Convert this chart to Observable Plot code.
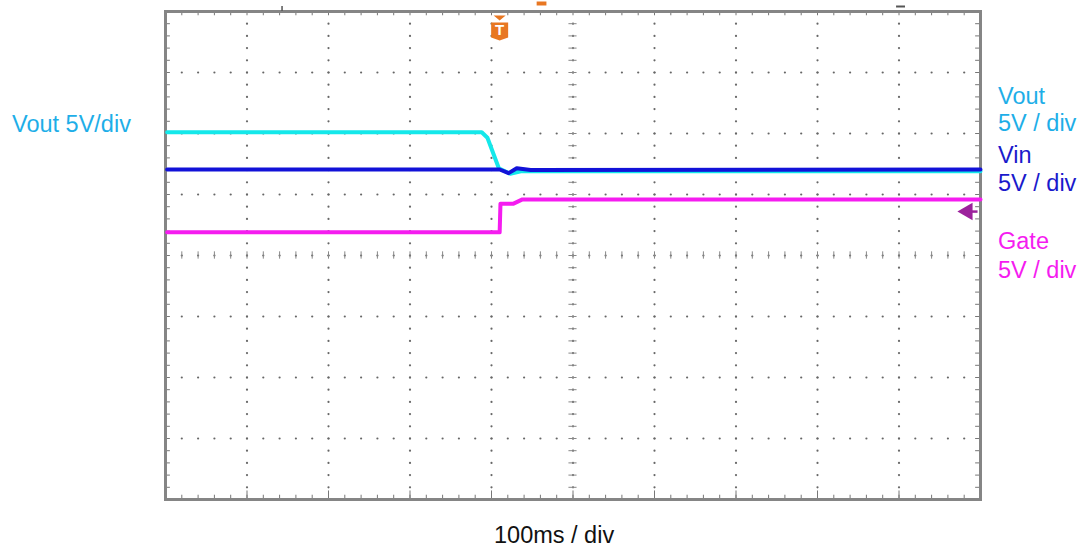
<!DOCTYPE html>
<html>
<head>
<meta charset="utf-8">
<script src="https://cdn.jsdelivr.net/npm/d3@7"></script>
<script src="https://cdn.jsdelivr.net/npm/@observablehq/plot@0.6"></script>
<style>
  html, body { margin: 0; padding: 0; background: #fff; }
  #wrap { position: relative; width: 1083px; height: 548px; overflow: hidden;
          font-family: "Liberation Sans", Arial, sans-serif; }
  .lbl { position: absolute; font-size: 23.5px; line-height: 28px; white-space: nowrap; }
</style>
</head>
<body>
<div id="wrap"></div>
<script>
// ---- Data (time in ms, 100 ms/div; amplitude in divisions, 5 V/div) ----
const voutTime = [2, 388, 395, 409, 423, 436, 1000];
const voutDiv  = [2.02, 2.02, 1.93, 1.43, 1.34, 1.38, 1.38];

const vinTime  = [2, 410, 421, 431, 448, 1000];
const vinDiv   = [1.41, 1.41, 1.35, 1.43, 1.40, 1.41];

const gateTime = [2, 410, 411, 427, 438, 1000];
const gateDiv  = [0.38, 0.38, 0.85, 0.85, 0.92, 0.92];

const triggerTime = 410;
const gateGroundDiv = 0.72;
const cursorTimes = [143, 461, 900];

const xDivs = 10, yDivs = 8;
const msPerDiv = 100;

const toRows = (t, v) => t.map((x, i) => ({t: x, v: v[i]}));
const vout = toRows(voutTime, voutDiv);
const vin = toRows(vinTime, vinDiv);
const gate = toRows(gateTime, gateDiv);

// grid helpers
const xMax = xDivs * msPerDiv;
const yTop = yDivs / 2, yBot = -yDivs / 2;
const majorX = d3.range(0, xMax + 1, msPerDiv);
const majorY = d3.range(yBot, yTop + 0.001, 1);
const minorX = d3.range(0, xMax + 0.001, msPerDiv / 5);
const minorY = d3.range(yBot, yTop + 0.001, 0.2);
const gridDots = [];
for (const x of majorX.slice(1, -1)) for (const y of minorY) gridDots.push({x, y});
for (const y of majorY.slice(1, -1)) for (const x of minorX) gridDots.push({x, y});

const triggerSymbol = {
  draw(ctx, size) {
    ctx.moveTo(-8.5, -6);
    ctx.lineTo(8.5, -6);
    ctx.lineTo(8.5, 9);
    ctx.lineTo(0, 12);
    ctx.lineTo(-8.5, 9);
    ctx.closePath();
    ctx.moveTo(-6, -13);
    ctx.lineTo(6, -13);
    ctx.lineTo(0, -8);
    ctx.closePath();
  }
};

const frameColor = "#858585";
const chart = Plot.plot({
  width: 1083,
  height: 548,
  marginLeft: 165,
  marginRight: 103,
  marginTop: 11,
  marginBottom: 49,
  x: {type: "linear", domain: [0, xMax], axis: null},
  y: {type: "linear", domain: [yBot, yTop], axis: null},
  marks: [
    // grid dots
    Plot.dot(gridDots, {x: "x", y: "y", r: 1.1, fill: "#666", stroke: null}),
    // center cross ticks
    Plot.ruleX(minorX, {x: d => d, y1: -0.06, y2: 0.06, stroke: "#888", strokeWidth: 1}),
    Plot.ruleY(minorY, {y: d => d, x1: xMax / 2 - 5, x2: xMax / 2 + 5, stroke: "#888", strokeWidth: 1}),
    // edge ticks
    Plot.ruleX(minorX, {x: d => d, y1: yTop, y2: yTop - 0.07, stroke: "#777"}),
    Plot.ruleX(minorX, {x: d => d, y1: yBot, y2: yBot + 0.07, stroke: "#777"}),
    Plot.ruleX(majorX, {x: d => d, y1: yBot, y2: yBot + 0.14, stroke: "#777"}),
    Plot.ruleY(minorY, {y: d => d, x1: 0, x2: 6, stroke: "#777"}),
    Plot.ruleY(minorY, {y: d => d, x1: xMax, x2: xMax - 6, stroke: "#777"}),
    // frame
    Plot.frame({stroke: frameColor, strokeWidth: 3}),
    // traces
    Plot.line(vout, {x: "t", y: "v", stroke: "#14e8ea", strokeWidth: 4}),
    Plot.line(vin, {x: "t", y: "v", stroke: "#1212d8", strokeWidth: 4}),
    Plot.line(gate, {x: "t", y: "v", stroke: "#f51cf0", strokeWidth: 4}),
    // gate ground marker (left-pointing arrow)
    Plot.ruleY([gateGroundDiv], {y: d => d, x1: xMax - 12, x2: xMax - 3, stroke: "#9c229c", strokeWidth: 2.5}),
    Plot.dot([gateGroundDiv], {x: xMax, y: d => d, dx: -13, symbol: "triangle", rotate: -90, r: 6.5,
      fill: "#9c229c", stroke: null}),
    // cursors above frame
    Plot.ruleX([cursorTimes[0]], {x: d => d, y1: yTop, y2: yTop + 0.08, stroke: "#555", strokeWidth: 1.5}),
    Plot.ruleY([yTop], {x1: cursorTimes[1] - 5, x2: cursorTimes[1] + 7, dy: -8, stroke: "#e87722", strokeWidth: 4}),
    Plot.ruleY([yTop], {x1: cursorTimes[2] - 3, x2: cursorTimes[2] + 8, dy: -5, stroke: "#555", strokeWidth: 2}),
    // trigger marker
    Plot.dot([triggerTime], {x: d => d, y: yTop, dy: 17, symbol: triggerSymbol, r: 4,
      fill: "#e87722", stroke: null}),
    Plot.text([triggerTime], {x: d => d, y: yTop, dy: 19, text: () => "T", fill: "white",
      fontWeight: "bold", fontSize: 15, fontFamily: "Liberation Sans, Arial, sans-serif"})
  ]
});

const wrap = document.getElementById("wrap");
wrap.appendChild(chart);

const labels = [
  {text: "Vout 5V/div", x: 12, y: 110, color: "#1eaee8"},
  {text: "Vout", x: 998, y: 82, color: "#1eaee8"},
  {text: "5V / div", x: 998, y: 109, color: "#1eaee8"},
  {text: "Vin", x: 998, y: 141, color: "#1a1acc"},
  {text: "5V / div", x: 998, y: 169, color: "#1a1acc"},
  {text: "Gate", x: 998, y: 227, color: "#f51cf0"},
  {text: "5V / div", x: 998, y: 256, color: "#f51cf0"},
  {text: "100ms / div", x: 494, y: 521, color: "#111"}
];
for (const l of labels) {
  const d = document.createElement("div");
  d.className = "lbl";
  d.textContent = l.text;
  d.style.left = l.x + "px";
  d.style.top = l.y + "px";
  d.style.color = l.color;
  wrap.appendChild(d);
}
</script>
</body>
</html>
